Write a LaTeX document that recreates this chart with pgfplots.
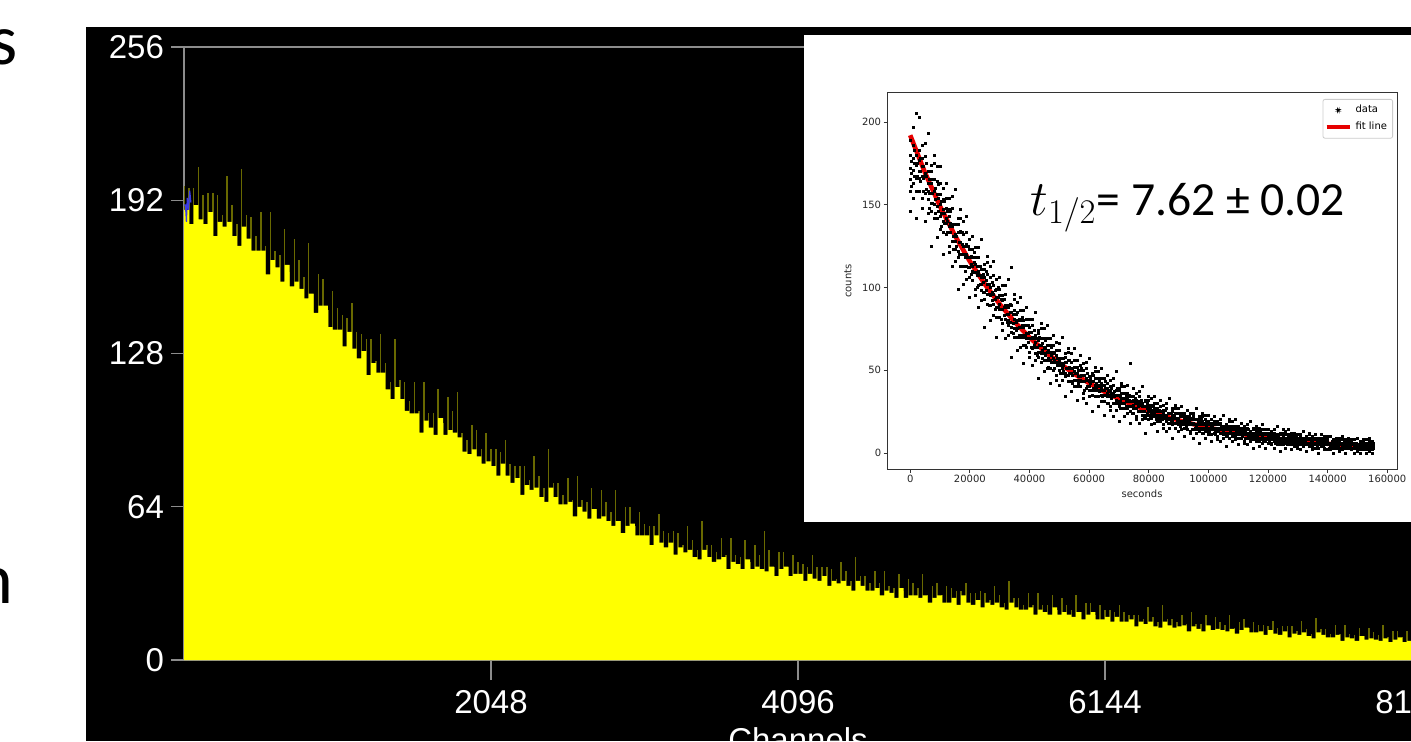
\documentclass[border=0pt]{standalone}
\usepackage{fontspec}
\setmainfont{Liberation Sans}
\newfontfamily\carlito{Carlito}
\newfontfamily\dejavu{DejaVu Sans}
\usepackage{pgfplots}
\pgfplotsset{compat=1.18}
\usepackage{pgfplotstable}
\definecolor{olivespike}{RGB}{105,105,0}
\definecolor{axgrey}{RGB}{140,140,140}
\definecolor{mplred}{RGB}{230,0,0}
\definecolor{hyellow}{RGB}{255,255,0}
\definecolor{cursorblue}{RGB}{60,60,230}

\pgfplotstableread{
x b m
0 188 198
32 182 197
64 190 197
96 184 206
128 182 194
160 187 195
192 177 195
224 183 194
256 181 186
288 183 202
320 177 190
352 173 182
384 181 205
416 176 186
448 171 185
480 171 177
512 171 187
544 161 173
576 167 187
608 164 171
640 158 169
672 165 180
704 156 162
736 158 176
768 155 167
800 151 160
832 153 174
864 145 153
896 148 161
928 148 159
960 139 146
992 138 154
1024 138 147
1056 131 144
1088 137 143
1120 130 149
1152 126 137
1184 129 136
1216 119 134
1248 124 134
1280 120 125
1312 120 136
1344 113 124
1376 109 116
1408 114 134
1440 109 117
1472 104 116
1504 103 108
1536 103 116
1568 95 104
1600 100 116
1632 97 103
1664 94 103
1696 101 113
1728 94 99
1760 96 110
1792 95 104
1824 93 112
1856 87 95
1888 86 92
1920 88 98
1952 85 96
1984 82 88
2016 83 95
2048 81 88
2080 77 88
2112 82 87
2144 77 92
2176 74 82
2208 76 81
2240 69 81
2272 73 81
2304 71 75
2336 72 85
2368 68 77
2400 66 72
2432 72 88
2464 68 74
2496 65 74
2528 65 69
2560 66 76
2592 60 67
2624 64 77
2656 62 67
2688 59 66
2720 63 72
2752 59 63
2784 60 71
2816 58 66
2848 56 62
2880 58 71
2912 53 58
2944 56 64
2976 57 64
3008 52 56
3040 52 62
3072 52 57
3104 48 56
3136 52 56
3168 49 61
3200 47 54
3232 49 53
3264 44 54
3296 47 53
3328 45 48
3360 46 56
3392 43 50
3424 42 46
3456 46 58
3488 43 48
3520 41 48
3552 42 45
3584 43 51
3616 38 44
3648 41 51
3680 40 44
3712 38 43
3744 42 50
3776 38 41
3808 39 48
3840 38 44
3872 37 54
3904 39 46
3936 35 39
3968 38 45
4000 39 45
4032 35 39
4064 36 44
4096 36 41
4128 33 40
4160 36 39
4192 34 44
4224 33 39
4256 35 39
4288 31 39
4320 33 38
4352 32 34
4384 33 41
4416 31 37
4448 29 33
4480 33 43
4512 31 35
4544 29 35
4576 29 32
4608 30 37
4640 27 32
4672 29 37
4704 28 31
4736 26 30
4768 30 36
4800 26 29
4832 27 34
4864 27 32
4896 26 30
4928 27 36
4960 24 27
4992 26 31
5024 27 32
5056 24 27
5088 24 31
5120 26 30
5152 23 29
5184 27 29
5216 24 32
5248 23 28
5280 25 28
5312 22 29
5344 24 28
5376 23 25
5408 24 31
5440 22 27
5472 21 24
5504 24 33
5536 22 26
5568 21 26
5600 21 23
5632 22 28
5664 19 23
5696 21 28
5728 20 23
5760 19 23
5792 22 27
5824 19 21
5856 20 26
5888 19 23
5920 18 21
5952 20 27
5984 17 20
6016 19 24
6048 20 24
6080 17 19
6112 17 23
6144 18 21
6176 16 21
6208 18 20
6240 16 23
6272 16 20
6304 17 19
6336 14 19
6368 16 19
6400 15 17
6432 16 22
6464 14 18
6496 13.5 16
6528 16 23
6560 14.5 17
6592 13.5 17
6624 14 16
6656 14.5 19
6688 12 15
6720 14 20
6752 13 15
6784 12 15
6816 14.5 19
6848 12.5 14
6880 13 18
6912 12.5 16
6944 12 14.5
6976 13 19
7008 11 13.5
7040 12.5 16
7072 13.5 17
7104 11.5 13.5
7136 11.5 16
7168 12 14.5
7200 10.5 14.5
7232 12.5 14
7264 11 16.5
7296 10.5 13.5
7328 12 14
7360 9.5 14
7392 11 14
7424 10.5 12
7456 11.5 16.5
7488 10 13
7520 9 11
7552 11.5 17.5
7584 10.5 13
7616 9.5 13
7648 9.5 11
7680 10.5 14.5
7712 8 11
7744 9.5 14.5
7776 9 11
7808 8 10.5
7840 10 13.5
7872 8.5 10
7904 9 13.5
7936 8.5 11.5
7968 8 10.5
8000 9 14.5
8032 7.5 9.5
8064 8.5 12
8096 9.5 12
8128 7.5 9.5
8160 8 12
8192 8 8
}\hist

\pgfplotstableread{
x a b c d e f
0 146 158 165 172 180 189
1000 154 163 171 178 186 197
2000 142 158 166 174 180 205
3000 158 166 170 177 183 203
4000 148 154 167 173 178 186
5000 140 157 168 169 179 187
6000 145 153 158 163 170 193
7000 125 146 151 163 170 174
8000 142 150 158 165 175 180
9000 130 142 149 156 164 173
10000 135 143 150 156 163 173
11000 120 133 140 147 153 160
12000 132 139 142 148 154 163
13000 121 125 137 143 147 154
14000 113 128 137 138 148 155
15000 116 123 128 132 138 159
16000 99 118 122 133 138 142
17000 113 120 127 134 142 147
18000 102 113 120 125 132 140
19000 105 113 120 126 133 143
20000 94 106 112 118 123 129
21000 104 110 113 118 123 131
22000 95 99 109 114 118 124
23000 88 101 109 110 118 124
24000 92 98 102 106 111 129
25000 76 93 97 106 111 114
26000 90 96 102 108 115 119
27000 80 89 95 100 106 113
28000 83 90 96 101 107 116
29000 70 82 88 94 99 105
30000 82 87 90 95 99 106
31000 74 78 87 92 95 101
32000 69 81 88 89 96 101
33000 71 77 80 84 88 105
34000 58 73 76 85 89 112
35000 70 75 81 86 93 96
36000 62 70 75 80 85 91
37000 64 70 76 80 86 94
38000 54 65 70 76 80 86
39000 64 69 72 77 81 88
40000 58 61 69 73 76 81
41000 53 63 70 70 77 81
42000 56 60 64 67 71 85
43000 45 58 61 68 72 74
44000 55 60 65 69 75 78
45000 49 56 60 64 69 75
46000 51 56 61 65 69 77
47000 42 51 56 61 65 69
48000 50 55 57 61 65 71
49000 44 47 55 59 62 67
50000 41 50 55 56 62 66
51000 44 48 51 54 57 70
52000 34 46 48 55 58 60
53000 43 47 51 56 61 63
54000 37 43 48 51 55 60
55000 40 44 49 52 56 63
56000 32 40 44 48 52 56
57000 40 44 46 50 53 59
58000 33 36 43 47 50 54
59000 30 39 44 45 51 55
60000 34 38 40 43 46 57
61000 25 35 38 43 47 48
62000 34 38 41 45 49 52
63000 28 34 38 41 45 49
64000 31 35 39 42 45 51
65000 23 31 35 38 41 45
66000 30 34 36 39 42 47
67000 26 28 34 37 40 44
68000 22 30 35 36 41 45
69000 26 30 32 35 38 49
70000 19 28 30 35 38 39
71000 27 30 33 36 40 42
72000 22 27 30 33 36 40
73000 24 27 31 33 36 41
74000 18 25 28 31 34 54
75000 24 27 29 32 34 39
76000 20 22 27 30 32 36
77000 18 25 29 30 34 37
78000 20 23 25 28 30 40
79000 12 21 23 28 31 32
80000 20 23 26 29 32 34
81000 17 21 24 26 29 33
82000 18 22 24 27 30 34
83000 13 19 22 25 27 30
84000 19 22 23 25 28 32
85000 15 17 22 24 26 29
86000 13 19 23 23 27 30
87000 15 18 20 21 24 33
88000 9 17 19 23 25 27
89000 15 18 21 24 27 29
90000 13 17 19 21 24 27
91000 14 17 19 22 24 28
92000 10 15 17 20 22 24
93000 14 17 18 20 22 26
94000 12 13 18 20 21 24
95000 9 14 18 18 22 24
96000 12 14 16 17 20 27
97000 6 13 15 19 21 22
98000 12 14 17 19 22 24
99000 9 13 15 17 20 23
100000 11 13 15 17 19 23
101000 7 11 14 16 18 20
102000 12 14 15 17 19 22
103000 8 10 14 15 17 19
104000 7 12 15 15 18 20
105000 9 11 13 14 16 23
106000 4 10 11 14 16 17
107000 9 12 14 16 19 20
108000 7 10 12 14 16 19
109000 8 10 12 14 16 20
110000 5 9 11 13 14 16
111000 9 11 12 14 15 18
112000 6 7 11 12 14 16
113000 5 9 12 12 15 17
114000 7 9 10 11 13 19
115000 3 8 9 12 14 15
116000 7 9 11 13 15 16
117000 4 7 9 11 13 15
118000 6 8 10 12 14 17
119000 3 7 9 11 12 14
120000 6 8 9 10 12 14
121000 5 6 9 10 11 13
122000 3 7 10 10 12 14
123000 5 7 8 9 11 16
124000 1 5 7 9 11 12
125000 5 7 9 10 12 14
126000 3 6 7 9 11 13
127000 5 7 8 10 11 14
128000 2 5 7 9 10 12
129000 4 6 7 8 10 12
130000 3 4 7 8 9 11
131000 2 5 8 8 10 11
132000 4 5 6 7 9 13
133000 1 5 6 8 9 10
134000 4 6 8 9 11 12
135000 2 4 5 7 8 10
136000 3 5 6 8 9 11
137000 0 3 5 7 8 9
138000 4 5 6 7 9 11
139000 2 3 6 7 8 10
140000 2 5 6 7 8 10
141000 2 3 4 5 6 10
142000 0 3 4 6 7 8
143000 3 4 5 7 8 9
144000 1 3 5 6 7 9
145000 2 4 5 6 8 10
146000 0 3 4 5 7 8
147000 3 4 5 6 7 9
148000 2 3 5 6 7 8
149000 0 3 4 5 6 8
150000 1 2 3 4 5 9
151000 0 2 3 5 6 7
152000 2 3 4 6 7 8
153000 0 2 4 5 6 8
154000 1 3 4 5 7 9
155000 0 2 3 4 6 7
}\decay

\pgfplotstableread{
x a b c
500 161 169 176
1500 167 175 183
2500 158 167 175
3500 164 170 178
4500 158 166 173
5500 159 167 175
6500 148 157 165
7500 151 157 165
8500 145 153 160
9500 146 154 162
10500 137 145 152
11500 139 145 152
12500 133 140 146
13500 133 139 146
14500 123 131 138
15500 125 131 138
16500 120 127 133
17500 120 126 133
18500 110 118 125
19500 112 118 125
20500 108 114 119
21500 109 115 121
22500 100 107 113
23500 102 107 113
24500 97 103 108
25500 98 104 110
26500 89 96 102
27500 92 97 103
28500 87 93 98
29500 88 94 100
30500 81 87 93
31500 83 88 93
32500 79 84 89
33500 79 85 90
34500 72 78 84
35500 74 79 84
36500 71 76 81
37500 71 77 82
38500 65 71 77
39500 67 72 77
40500 64 69 73
41500 65 69 74
42500 59 64 69
43500 61 65 70
44500 57 62 66
45500 59 63 68
46500 52 57 62
47500 55 59 64
48500 51 56 60
49500 53 57 62
50500 48 53 57
51500 49 53 57
52500 47 51 55
53500 48 52 56
54500 42 47 51
55500 44 48 52
56500 42 46 50
57500 43 47 51
58500 38 43 47
59500 40 44 48
60500 38 42 45
61500 39 43 47
62500 34 39 42
63500 37 40 43
64500 34 38 41
65500 35 39 43
66500 30 35 38
67500 33 36 39
68500 30 34 37
69500 31 35 39
70500 27 31 34
71500 30 33 36
72500 28 31 34
73500 28 32 35
74500 24 28 31
75500 27 30 33
76500 25 28 31
77500 25 29 32
78500 21 25 28
79500 24 27 30
80500 22 25 27
81500 23 25 28
82500 20 23 26
83500 21 23 26
84500 20 23 25
85500 21 23 26
86500 18 21 24
87500 19 21 24
88500 18 21 23
89500 19 21 24
90500 16 19 22
91500 17 19 22
92500 16 19 21
93500 17 19 22
94500 14 17 20
95500 15 17 20
96500 14 17 19
97500 15 17 20
98500 12 15 18
99500 14 16 19
100500 13 15 17
101500 14 16 18
102500 11 13 15
103500 13 14 17
104500 12 14 16
105500 12 14 16
106500 10 12 14
107500 12 13 16
108500 10 12 14
109500 11 13 15
110500 9 11 13
111500 10 11 13
112500 9 11 13
113500 10 12 14
114500 8 10 12
115500 9 10 12
116500 8 10 12
117500 9 11 13
118500 7 9 11
119500 8 9 11
120500 7 9 10
121500 8 10 12
122500 6 8 10
123500 7 8 10
124500 6 8 9
125500 7 9 11
126500 5 7 9
127500 7 8 10
128500 5 7 8
129500 6 8 10
130500 5 7 8
131500 6 7 9
132500 5 7 8
133500 6 8 9
134500 4 6 7
135500 5 6 8
136500 4 6 7
137500 5 7 8
138500 4 6 7
139500 5 6 8
140500 3 5 6
141500 4 6 7
142500 3 5 6
143500 4 5 7
144500 3 5 6
145500 4 6 7
146500 3 5 6
147500 4 5 7
148500 3 5 6
149500 3 5 6
150500 2 4 5
151500 3 4 6
152500 2 4 5
153500 3 5 6
154500 2 4 5
155500 3 4 6
}\decaymid

\pgfplotsset{
  datamark/.style={only marks, mark=square*, mark size=0.5pt, mark options={draw=none, fill=black}},
}

\begin{document}
\begin{tikzpicture}
\path[use as bounding box] (0,0) rectangle (705.5pt,370.5pt);
\clip (0,0) rectangle (705.5pt,370.5pt);
\fill[white] (0,0) rectangle (705.5pt,370.5pt);
\fill[black] (43pt,0) rectangle (705.5pt,357pt);
\node[anchor=base east, inner sep=0pt, font=\carlito\fontsize{36}{40}\selectfont] at (9pt,338pt) {s};
\node[anchor=base east, inner sep=0pt, font=\carlito\fontsize{36}{40}\selectfont] at (7pt,69pt) {n};

\begin{axis}[
  at={(92pt,40.5pt)}, anchor=south west,
  scale only axis, width=614pt, height=306.5pt,
  xmin=0, xmax=8192, ymin=0, ymax=256,
  axis line style={draw=axgrey, line width=0.6pt},
  xtick={2048,4096,6144,8192}, xticklabels={2048,4096,6144,8192},
  ytick={0,64,128,192,256}, yticklabels={0,64,128,192,256},
  tick align=outside, xtick pos=bottom, ytick pos=left,
  major tick length=6.5pt,
  tick style={draw=axgrey, line width=0.6pt},
  xtick style={/pgfplots/major tick length=10pt},
  ticklabel style={text=white, font=\fontsize{16.5}{19}\selectfont},
  xticklabel style={yshift=-5pt},
  xlabel={Channels},
  every axis x label/.style={at={(axis description cs:0.5,-0.109)}, anchor=north, inner sep=0pt, text=white, font=\fontsize{16.5}{19}\selectfont},
]
\addplot[ycomb, draw=olivespike, line width=0.75pt] table[x=x,y=m] {\hist};
\addplot[const plot, fill=hyellow, draw=none] table[x=x,y=b] {\hist} \closedcycle;
\addplot[cursorblue, line width=0.6pt] coordinates {(0,190)(10,190)(16,183)(22,193)(30,188)(38,196)(46,191)};
\end{axis}

\fill[white] (402pt,109.5pt) rectangle (705.5pt,353pt);

\begin{axis}[
  at={(443.5pt,136pt)}, anchor=south west,
  scale only axis, width=255pt, height=188pt,
  xmin=-7775, xmax=163275, ymin=-9.67, ymax=217.5,
  scaled x ticks=false, scaled y ticks=false,
  axis line style={draw=black!80, line width=0.5pt},
  tick align=outside, xtick pos=bottom, ytick pos=left,
  major tick length=1.75pt,
  tick style={draw=black!80, line width=0.4pt},
  xtick={0,20000,40000,60000,80000,100000,120000,140000,160000},
  xticklabels={0,20000,40000,60000,80000,100000,120000,140000,160000},
  ytick={0,50,100,150,200}, yticklabels={0,50,100,150,200},
  ticklabel style={font=\dejavu\fontsize{5}{6}\selectfont, text=black!85, inner sep=1pt},
  xlabel={seconds}, ylabel={counts},
  every axis x label/.style={at={(axis description cs:0.5,-0.066)}, anchor=center, font=\dejavu\fontsize{5}{6}\selectfont, text=black!85},
  every axis y label/.style={at={(axis description cs:-0.0765,0.5)}, anchor=center, rotate=90, font=\dejavu\fontsize{5}{6}\selectfont, text=black!85},
  legend style={at={(axis description cs:1,1)}, anchor=north east, xshift=-2pt, yshift=-3pt,
    draw=black!20, rounded corners=1pt, fill=white, font=\dejavu\fontsize{5}{6}\selectfont,
    inner sep=0.8pt, row sep=-0.8pt},
  legend cell align=left,
]
\addplot[datamark,
  legend image code/.code={\fill[black] (5.5pt,-0.35pt) rectangle (6.2pt,0.35pt);}] table[x=x,y=a] {\decay};
\addlegendentry{data}
\addplot[datamark, forget plot] table[x=x,y=b] {\decay};
\addplot[datamark, forget plot] table[x=x,y=c] {\decay};
\addplot[datamark, forget plot] table[x=x,y=d] {\decay};
\addplot[datamark, forget plot] table[x=x,y=e] {\decay};
\addplot[datamark, forget plot] table[x=x,y=f] {\decay};
\addplot[datamark, forget plot] table[x=x,y=a] {\decaymid};
\addplot[datamark, forget plot] table[x=x,y=b] {\decaymid};
\addplot[datamark, forget plot] table[x=x,y=c] {\decaymid};
\addplot[mplred, line width=2.3pt,
  legend image code/.code={\draw[mplred, line width=2pt] (0pt,0pt) -- (11.5pt,0pt);}] coordinates {
(0,192) (5000,169.2) (10000,149.1) (15000,131.4) (20000,115.8) (25000,102.1)
(30000,90.0) (35000,79.3) (40000,69.9) (45000,61.6) (50000,54.3) (55000,47.9)
(60000,42.2) (65000,37.2) (70000,32.7) (75000,28.9) (80000,25.4) (85000,22.4)
(90000,19.8) (95000,17.4) (100000,15.3) (105000,13.5) (110000,11.9) (115000,10.5)
(120000,9.3) (125000,8.2) (130000,7.2) (135000,6.3) (140000,5.6) (145000,4.9)
(150000,4.3) (155500,3.8)};
\addlegendentry{fit line}
\end{axis}

\node[anchor=base west, inner sep=0pt] at (515pt,263pt) {\fontsize{27}{31}\selectfont$t_{1/2}$\carlito\fontsize{23.8}{28}\selectfont= 7.62 ± 0.02};
\end{tikzpicture}
\end{document}
